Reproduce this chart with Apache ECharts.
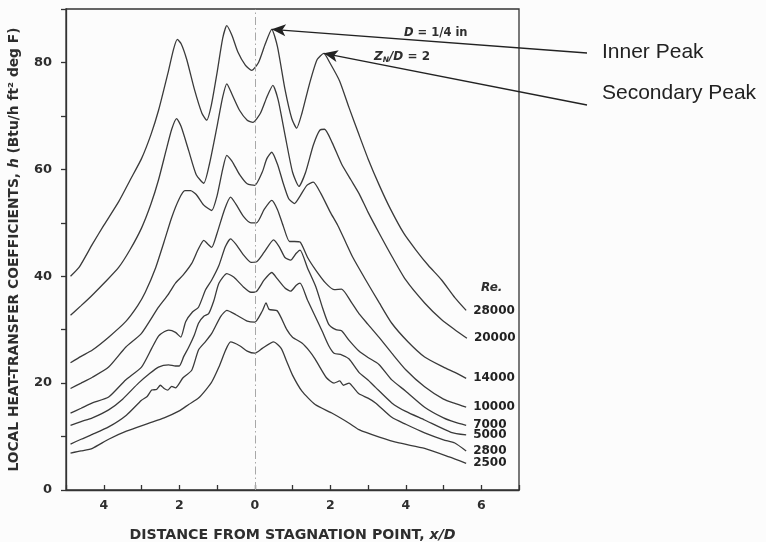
<!DOCTYPE html>
<html>
<head>
<meta charset="utf-8">
<title>Local heat-transfer coefficients</title>
<script src="https://cdn.jsdelivr.net/npm/echarts@6.0.0/dist/echarts.min.js"></script>
<style>
  html, body { margin: 0; padding: 0; background: #fcfcfc; }
  #main { width: 766px; height: 542px; }
</style>
</head>
<body>
<div id="main"></div>
<script>
// Reynolds numbers, top curve first
const reLabels = ["28000", "20000", "14000", "10000", "7000", "5000", "2800", "2500"];

// [x/D, h]
const re28000 = [[-4.88,40.0],[-4.65,41.7],[-4.3,46],[-4.0,49.5],[-3.6,54],[-3.3,58],[-3.0,62],[-2.75,66.5],[-2.55,71],[-2.3,78],[-2.15,82.5],[-2.05,84.3],[-1.95,83.5],[-1.8,80.5],[-1.6,75],[-1.4,70.5],[-1.27,69.2],[-1.15,72],[-1.0,78],[-0.85,84.5],[-0.74,86.9],[-0.6,85],[-0.45,82],[-0.25,79.5],[-0.08,78.5],[0.1,80],[0.28,83.5],[0.45,86.2],[0.6,83],[0.8,75],[0.98,69.5],[1.11,67.7],[1.25,70.5],[1.45,76],[1.65,80.5],[1.83,81.7],[2.0,79.8],[2.25,76.5],[2.5,71.5],[2.76,66.5],[3.0,62],[3.3,57],[3.6,52.5],[3.95,48],[4.27,44.9],[4.6,42],[4.95,39.3],[5.3,36],[5.6,33.6]];
const re20000 = [[-4.88,32.7],[-4.6,34.5],[-4.3,36.5],[-3.95,39],[-3.6,41.7],[-3.3,45],[-3.0,49],[-2.75,53.5],[-2.55,58],[-2.35,63.5],[-2.2,67.5],[-2.07,69.5],[-1.95,68],[-1.75,63.5],[-1.55,59],[-1.35,57.4],[-1.2,61],[-1.0,68],[-0.85,73.5],[-0.74,76],[-0.6,74],[-0.4,71],[-0.2,69.2],[-0.05,68.8],[0.15,70.5],[0.32,73.5],[0.48,75.7],[0.62,73],[0.8,66.5],[1.0,59.5],[1.17,56.8],[1.35,59.5],[1.55,64.5],[1.72,67.3],[1.85,67.5],[2.05,65],[2.3,61],[2.55,58],[2.76,55.5],[3.0,52],[3.3,48],[3.65,43.5],[4.0,39.3],[4.5,35],[4.96,31.8],[5.3,30],[5.62,28.4]];
const re14000 = [[-4.88,23.8],[-4.6,25],[-4.3,26.2],[-3.87,28.6],[-3.42,31.5],[-3.1,34.5],[-2.9,37],[-2.63,41.5],[-2.4,46.5],[-2.2,51],[-2.0,54.5],[-1.85,56],[-1.7,56],[-1.55,55.3],[-1.35,53.3],[-1.14,52.3],[-1.0,55],[-0.85,60],[-0.74,62.6],[-0.6,61.5],[-0.4,59],[-0.2,57.3],[0.0,57],[0.2,59.5],[0.32,62],[0.45,63.2],[0.6,61],[0.75,57.5],[0.9,54.5],[1.05,53.6],[1.2,55],[1.38,57],[1.55,57.6],[1.75,55.5],[2.0,52],[2.2,49.5],[2.4,46.5],[2.6,43.5],[2.94,39.3],[3.3,35],[3.63,31.2],[4.05,27.8],[4.5,24.9],[5.0,23],[5.3,22],[5.6,20.9]];
const re10000 = [[-4.88,19],[-4.6,20],[-4.3,21.1],[-3.87,23],[-3.42,26.7],[-3.0,29.3],[-2.55,34.2],[-2.3,36.5],[-2.1,38.7],[-1.9,40.2],[-1.67,42.4],[-1.5,45],[-1.35,46.7],[-1.24,46],[-1.14,45.4],[-1.0,48],[-0.8,52.5],[-0.64,54.8],[-0.5,53.5],[-0.3,51.2],[-0.1,50],[0.05,50],[0.25,52.5],[0.45,54.2],[0.6,52.5],[0.75,49.5],[0.92,46.5],[1.05,46.5],[1.2,46.4],[1.4,43.5],[1.62,41.1],[1.88,38.7],[2.1,37.5],[2.3,37.6],[2.57,35],[2.76,33],[3.0,31],[3.3,28.5],[3.63,25.6],[4.0,22.5],[4.5,19.3],[5.0,17],[5.3,16.2],[5.6,15.5]];
const re7000 = [[-4.88,14.4],[-4.6,15.3],[-4.3,16.3],[-3.87,17.4],[-3.42,20.6],[-3.0,23],[-2.73,26.5],[-2.55,28.8],[-2.4,29.6],[-2.28,29.9],[-2.1,29.5],[-1.96,28.6],[-1.83,31.5],[-1.65,33.3],[-1.49,34.2],[-1.3,37.5],[-1.14,39.3],[-0.95,42],[-0.78,45.5],[-0.64,47],[-0.5,46],[-0.3,44],[-0.1,42.6],[0.05,42.7],[0.25,44.5],[0.5,46.8],[0.65,45.5],[0.8,43.5],[0.95,43],[1.1,44.3],[1.2,44.9],[1.4,41.5],[1.62,38],[1.8,34],[1.96,31],[2.15,30],[2.3,29.8],[2.5,28],[2.76,26],[3.0,24.8],[3.29,23.5],[3.63,20.6],[4.0,18.5],[4.5,15.5],[5.0,13.5],[5.3,12.7],[5.6,12.1]];
const re5000 = [[-4.88,12.1],[-4.6,12.8],[-4.3,13.5],[-3.87,15],[-3.5,17],[-3.08,20],[-2.8,21.7],[-2.55,23],[-2.28,23.4],[-2.1,23.2],[-2.0,23.2],[-1.88,25],[-1.75,26.7],[-1.6,29],[-1.49,31.2],[-1.35,32.5],[-1.22,33],[-1.08,35.5],[-0.95,38.7],[-0.74,40.5],[-0.55,39.8],[-0.3,38],[-0.1,37],[0.05,37.2],[0.25,39.3],[0.45,40.7],[0.6,39.5],[0.8,37.8],[0.95,37.2],[1.1,38.3],[1.2,38.7],[1.4,35.5],[1.6,32.5],[1.8,29.5],[1.96,27],[2.1,25.6],[2.3,25.3],[2.5,24.5],[2.76,22],[3.0,20.6],[3.2,19.2],[3.63,16.3],[4.0,14.7],[4.5,13.1],[5.2,10.8],[5.6,10.3]];
const re2800 = [[-4.88,8.6],[-4.6,9.5],[-4.3,10.4],[-3.87,11.8],[-3.4,14],[-3.0,16.8],[-2.85,17.5],[-2.73,18.7],[-2.6,18.8],[-2.5,19.6],[-2.4,19.0],[-2.3,18.7],[-2.2,19.4],[-2.1,19.1],[-1.9,21],[-1.67,22.4],[-1.49,26.2],[-1.3,27.8],[-1.14,29.3],[-0.9,32.5],[-0.74,33.6],[-0.5,32.8],[-0.2,31.6],[0.0,31.4],[0.2,33.5],[0.3,35],[0.38,33.8],[0.6,33.5],[0.85,30],[1.0,28.6],[1.25,27.5],[1.45,26],[1.6,24.5],[1.9,21],[2.1,20],[2.25,20.4],[2.35,19.6],[2.5,20],[2.6,19.3],[2.76,18],[3.0,17.2],[3.2,16.3],[3.63,13.6],[4.0,12.3],[4.5,10.7],[5.0,9.4],[5.3,8.8],[5.6,7.3]];
const re2500 = [[-4.88,6.9],[-4.6,7.3],[-4.3,7.8],[-3.87,9.5],[-3.4,11],[-2.8,12.5],[-2.4,13.5],[-2.0,14.8],[-1.75,16],[-1.49,17.2],[-1.3,18.7],[-1.14,20.2],[-0.95,23],[-0.77,26.2],[-0.64,27.7],[-0.4,27],[-0.2,26],[0.0,25.6],[0.2,26.5],[0.5,27.7],[0.7,26.5],[0.85,24],[1.0,21.5],[1.25,18.5],[1.6,16],[2.04,14.4],[2.5,12.5],[2.76,11.3],[3.3,9.9],[3.82,8.8],[4.5,7.8],[5.15,6.2],[5.6,5]];

const curves = [re28000, re20000, re14000, re10000, re7000, re5000, re2800, re2500];

// peaks pointed at by the callouts
const innerPeak = [0.45, 86.2];
const secondaryPeak = [1.83, 81.7];

const INK = "#2e2e2e";
const FONT = "DejaVu Sans";

const chart = echarts.init(document.getElementById("main"), null, { renderer: "canvas" });

const series = curves.map((data, i) => ({
  name: reLabels[i],
  type: "line",
  data: data,
  symbol: "none",
  smooth: 0.2,
  silent: true,
  clip: false,
  animation: false,
  lineStyle: { color: "#3a3a3a", width: 1.3 },
  endLabel: {
    show: true,
    formatter: "{a}",
    distance: 7,
    color: "#222",
    fontFamily: FONT,
    fontWeight: "bold",
    fontSize: 12
  }
}));

// arrows from the callout text to the peaks
series[0].markLine = {
  silent: true,
  animation: false,
  symbol: ["arrow", "none"],
  symbolSize: [9, 14],
  label: { show: false },
  lineStyle: { color: "#222", type: "solid", width: 1.3 },
  data: [
    [{ coord: innerPeak }, { x: 587, y: 53 }],
    [{ coord: secondaryPeak }, { x: 587, y: 105 }]
  ]
};

// stagnation line, dash-dot
series[1].markLine = {
  silent: true,
  animation: false,
  symbol: "none",
  label: { show: false },
  lineStyle: { color: "#a8a8a8", type: [8, 3, 1.5, 3], width: 1 },
  data: [{ xAxis: 0 }]
};

const option = {
  backgroundColor: "#fcfcfc",
  animation: false,
  grid: {
    left: 66, right: 247, top: 9, bottom: 52,
    show: true, borderColor: "#333", borderWidth: 1.3,
    containLabel: false, outerBoundsMode: "none"
  },
  xAxis: {
    type: "value",
    min: -5, max: 7, interval: 1,
    name: "{a|DISTANCE FROM STAGNATION POINT, }{b|x/D}",
    nameLocation: "middle",
    nameGap: 38,
    nameTextStyle: {
      rich: {
        a: { fontFamily: FONT, fontSize: 14.2, fontWeight: "bold", color: INK },
        b: { fontFamily: FONT, fontSize: 14.2, fontWeight: "bold", fontStyle: "italic", color: INK }
      }
    },
    axisLine: { show: true, onZero: false, lineStyle: { color: "#333", width: 1.3 } },
    axisTick: { show: true, inside: true, length: 5, lineStyle: { color: "#333", width: 1.3 } },
    axisLabel: {
      margin: 9,
      color: INK, fontFamily: FONT, fontWeight: "bold", fontSize: 12.5,
      formatter: v => (v % 2 === 0 ? String(Math.abs(v)) : "")
    },
    splitLine: { show: false }
  },
  yAxis: {
    type: "value",
    min: 0, max: 90, interval: 10,
    name: "{a|LOCAL HEAT-TRANSFER COEFFICIENTS, }{b|h}{a| (Btu/h ft² deg F)}",
    nameLocation: "middle",
    nameGap: 45,
    nameTextStyle: {
      rich: {
        a: { fontFamily: FONT, fontSize: 13.8, fontWeight: "bold", color: INK },
        b: { fontFamily: FONT, fontSize: 13.8, fontWeight: "bold", fontStyle: "italic", color: INK }
      }
    },
    axisLine: { show: true, onZero: false, lineStyle: { color: "#333", width: 1.3 } },
    axisTick: { show: true, inside: false, length: 5, lineStyle: { color: "#333", width: 1.3 } },
    axisLabel: {
      margin: 14,
      color: INK, fontFamily: FONT, fontWeight: "bold", fontSize: 13,
      formatter: v => (v % 20 === 0 && v <= 80 ? String(v) : "")
    },
    splitLine: { show: false }
  },
  graphic: [
    {
      type: "text", x: 602, y: 52, silent: true,
      style: {
        text: "Inner Peak", fill: "#222",
        fontFamily: "Liberation Sans", fontSize: 21,
        align: "left", verticalAlign: "middle", textAlign: "left", textVerticalAlign: "middle"
      }
    },
    {
      type: "text", x: 602, y: 93, silent: true,
      style: {
        text: "Secondary Peak", fill: "#222",
        fontFamily: "Liberation Sans", fontSize: 21,
        align: "left", verticalAlign: "middle", textAlign: "left", textVerticalAlign: "middle"
      }
    },
    {
      type: "text", x: 404, y: 33, silent: true,
      style: {
        text: "{i|D} = 1/4 in", fill: INK,
        fontFamily: FONT, fontSize: 11.5, fontWeight: "bold",
        rich: { i: { fontFamily: FONT, fontSize: 11.5, fontWeight: "bold", fontStyle: "italic", fill: INK } },
        align: "left", verticalAlign: "middle", textAlign: "left", textVerticalAlign: "middle"
      }
    },
    {
      type: "text", x: 374, y: 57, silent: true,
      style: {
        text: "{i|Z}{n|N}{i|/D} = 2", fill: INK,
        fontFamily: FONT, fontSize: 12, fontWeight: "bold",
        rich: {
          i: { fontFamily: FONT, fontSize: 12, fontWeight: "bold", fontStyle: "italic", fill: INK },
          n: { fontFamily: FONT, fontSize: 7.5, fontWeight: "bold", fontStyle: "italic", fill: INK, verticalAlign: "bottom", padding: [6, 0, 0, 0] }
        },
        align: "left", verticalAlign: "middle", textAlign: "left", textVerticalAlign: "middle"
      }
    },
    {
      type: "text", x: 481, y: 288, silent: true,
      style: {
        text: "Re.", fill: INK,
        fontFamily: FONT, fontSize: 12, fontWeight: "bold", fontStyle: "italic",
        align: "left", verticalAlign: "middle", textAlign: "left", textVerticalAlign: "middle"
      }
    }
  ],
  series: series
};

chart.setOption(option);
</script>
</body>
</html>
